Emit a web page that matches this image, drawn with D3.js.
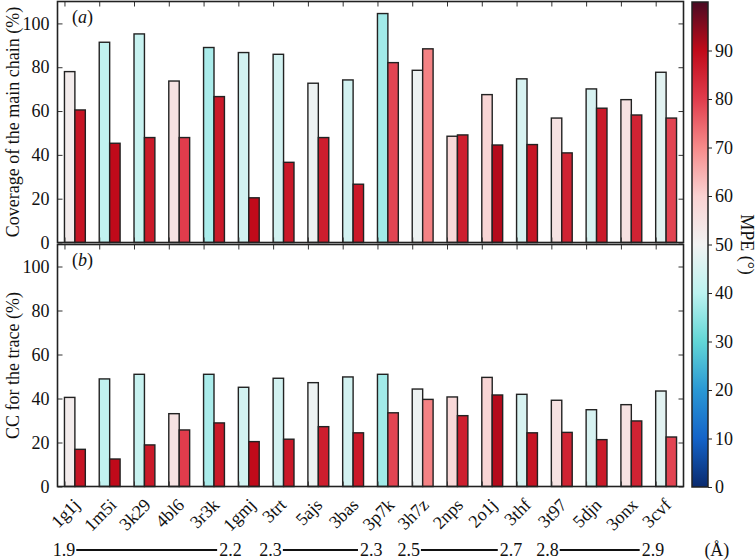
<!DOCTYPE html>
<html><head><meta charset="utf-8">
<script src="https://cdn.jsdelivr.net/npm/d3@7"></script>
<style>
body{margin:0;background:#fff;}
svg text{font-family:"Liberation Serif","Times New Roman",serif;fill:#111;}
</style></head>
<body><svg id="c" width="756" height="560"></svg>
<script>
// ---- data ----
const codes = ["1g1j","1m5i","3k29","4bl6","3r3k","1gmj","3trt","5ajs","3bas","3p7k","3h7z","2nps","2o1j","3thf","3t97","5djn","3onx","3cvf"];
const coverageA = [78.0, 91.4, 95.2, 73.7, 89.0, 86.7, 85.9, 72.7, 74.2, 104.5, 78.6, 48.5, 67.5, 74.7, 56.8, 70.1, 65.2, 77.7];
const coverageB = [60.5, 45.3, 47.9, 47.9, 66.6, 20.4, 36.6, 47.9, 26.6, 82.1, 88.4, 49.1, 44.5, 44.7, 40.9, 61.3, 58.2, 56.8];
const ccA = [40.5, 48.9, 51.0, 33.1, 51.0, 45.1, 49.2, 47.2, 49.8, 51.0, 44.3, 40.7, 49.6, 41.9, 39.2, 34.9, 37.2, 43.4];
const ccB = [16.9, 12.5, 18.9, 25.7, 28.9, 20.4, 21.5, 27.2, 24.4, 33.5, 39.6, 32.2, 41.6, 24.4, 24.6, 21.3, 29.8, 22.5];
const mpeA = [52, 41, 42, 55, 38, 44, 44, 49, 44, 37, 49, 58, 59, 45, 55, 45, 55, 47];
const mpeB = [88, 90, 87, 80, 87, 90, 87, 86, 87, 79, 71, 86, 91, 88, 85, 87, 85, 79];
const yTicks = [0, 20, 40, 60, 80, 100];
const cbTicks = [0, 10, 20, 30, 40, 50, 60, 70, 80, 90];
const resLabels = [["1.9","2.2"],["2.3","2.3"],["2.5","2.7"],["2.8","2.9"]];
const resUnit = "(Å)";
// colormap stops (MPE value -> colour)
const cmapVals = [0, 10, 20, 30, 40, 50, 60, 70, 80, 90, 100];
const cmapCols = ["#0a2a6e","#1463c8","#2a98d4","#62d6d6","#bcf2f0","#f2f2f2","#f9d2d2","#f68a8a","#e03c4c","#c00a1a","#4a0a22"];

// ---- layout ----
const FS = 18;
const svg = d3.select("#c");
const X0 = 57.5, X1 = 683.5;
const x = d3.scaleLinear().domain([-0.2, 17.8]).range([X0, X1]);
const bw = 0.3;
const panels = [
  {y: d3.scaleLinear().domain([0,110]).range([242.5, 1.5]), a: coverageA, b: coverageB, label: "Coverage of the main chain (%)", tag: "a"},
  {y: d3.scaleLinear().domain([0,110]).range([486.5, 244.5]), a: ccA, b: ccB, label: "CC for the trace (%)", tag: "b"}
];
const cmap = d3.scaleLinear().domain(cmapVals).range(cmapCols).clamp(true);

panels.forEach(p => {
  const g = svg.append("g");
  const [yb, yt] = p.y.range();
  g.selectAll(".ba").data(p.a).join("rect")
    .attr("x", (d,i) => x(i)).attr("width", x(bw) - x(0))
    .attr("y", d => p.y(d)).attr("height", d => p.y(0) - p.y(d))
    .attr("fill", (d,i) => cmap(mpeA[i])).attr("stroke", "#222").attr("stroke-width", 1.4);
  g.selectAll(".bb").data(p.b).join("rect")
    .attr("x", (d,i) => x(i + bw)).attr("width", x(bw) - x(0))
    .attr("y", d => p.y(d)).attr("height", d => p.y(0) - p.y(d))
    .attr("fill", (d,i) => cmap(mpeB[i])).attr("stroke", "#222").attr("stroke-width", 1.4);
  const yAxL = d3.axisLeft(p.y).tickValues(yTicks).tickSize(-5).tickPadding(8).tickFormat(d3.format("d"));
  const ga = g.append("g").attr("transform", `translate(${X0},0)`).call(yAxL);
  ga.select(".domain").remove();
  ga.selectAll("text").attr("font-size", FS).style("font-family", '"Liberation Serif",serif').attr("fill", "#111");
  ga.selectAll("line").attr("stroke", "#333");
  const yAxR = d3.axisRight(p.y).tickValues(yTicks).tickSize(-5).tickFormat("");
  const gr = g.append("g").attr("transform", `translate(${X1},0)`).call(yAxR);
  gr.select(".domain").remove(); gr.selectAll("line").attr("stroke", "#333");
  const xt = d3.axisTop(x).tickValues(d3.range(codes.length)).tickSize(-5).tickFormat("");
  const gt = g.append("g").attr("transform", `translate(0,${yt})`).call(xt);
  gt.select(".domain").remove(); gt.selectAll("line").attr("stroke", "#333");
  const xb = d3.axisBottom(x).tickValues(d3.range(codes.length)).tickSize(-5).tickFormat("");
  const gbx = g.append("g").attr("transform", `translate(0,${yb})`).call(xb);
  gbx.select(".domain").remove(); gbx.selectAll("line").attr("stroke", "#333");
  g.append("rect").attr("x", X0).attr("y", yt).attr("width", X1 - X0).attr("height", yb - yt)
    .attr("fill", "none").attr("stroke", "#222").attr("stroke-width", 1.6);
  g.append("text").attr("transform", `translate(19,${(yb+yt)/2}) rotate(-90)`)
    .attr("text-anchor", "middle").attr("font-size", FS).text(p.label);
  const t = g.append("text").attr("x", 72).attr("y", yt + 21).attr("font-size", FS);
  t.append("tspan").text("(");
  t.append("tspan").attr("font-style", "italic").text(p.tag);
  t.append("tspan").text(")");
});

// x category labels, rotated 45°, bbox centred on tick
svg.selectAll(".xl").data(codes).join("text")
  .attr("class", "xl").attr("font-size", FS).attr("text-anchor", "middle")
  .attr("dominant-baseline", "central")
  .text(d => d)
  .each(function(d, i) {
    const L = this.getComputedTextLength();
    const h = (L + FS * 0.75) * Math.SQRT1_2;
    const cx = x(i) + 1, cy = 497 + h / 2;
    d3.select(this).attr("transform", `translate(${cx},${cy}) rotate(-45)`);
  });

// resolution row
const resLine = [[0.34, 4.39], [6.28, 8.44], [10.25, 12.46], [14.24, 16.54]];
const ry = 550;
resLabels.forEach((lab, k) => {
  const [a, b] = resLine[k];
  svg.append("line").attr("x1", x(a)).attr("x2", x(b)).attr("y1", ry).attr("y2", ry)
    .attr("stroke", "#111").attr("stroke-width", 2);
  svg.append("text").attr("x", x(a) - 1).attr("y", ry + 6).attr("text-anchor", "end").attr("font-size", FS).text(lab[0]);
  svg.append("text").attr("x", x(b) + 2).attr("y", ry + 6).attr("text-anchor", "start").attr("font-size", FS).text(lab[1]);
});
svg.append("text").attr("x", x(18.76)).attr("y", ry + 6).attr("text-anchor", "middle").attr("font-size", FS).text(resUnit);

// colorbar
const cbX = 692, cbW = 16;
const cy = d3.scaleLinear().domain([0, 100]).range([487, 2]);
const grad = svg.append("defs").append("linearGradient").attr("id", "cbg")
  .attr("x1", 0).attr("y1", 1).attr("x2", 0).attr("y2", 0);
cmapVals.forEach((v, i) => grad.append("stop").attr("offset", v / 100).attr("stop-color", cmapCols[i]));
svg.append("rect").attr("x", cbX).attr("y", cy(100)).attr("width", cbW).attr("height", cy(0) - cy(100))
  .attr("fill", "url(#cbg)").attr("stroke", "#222").attr("stroke-width", 1.5);
const cax = d3.axisRight(cy).tickValues(cbTicks).tickSize(4).tickPadding(3).tickFormat(d3.format("d"));
const gc = svg.append("g").attr("transform", `translate(${cbX + cbW},0)`).call(cax);
gc.select(".domain").remove();
gc.selectAll("line").attr("stroke", "#222");
gc.selectAll("text").attr("font-size", FS).style("font-family", '"Liberation Serif",serif').attr("fill", "#111");
svg.append("text").attr("transform", `translate(741,${(cy(0)+cy(100))/2}) rotate(90)`)
  .attr("text-anchor", "middle").attr("font-size", FS).text("MPE (°)");
</script></body></html>
